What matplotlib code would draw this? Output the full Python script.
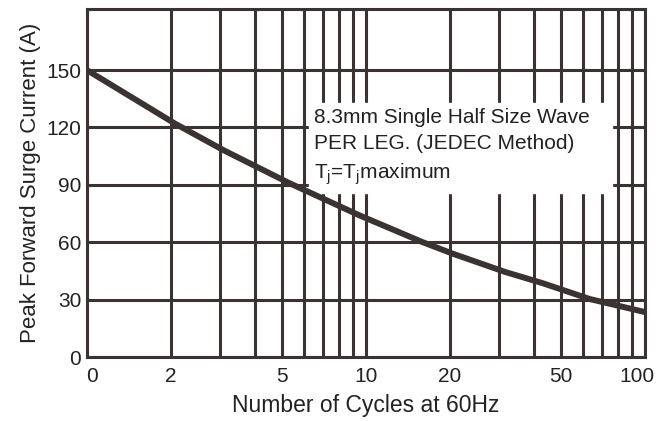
import numpy as np
import matplotlib.pyplot as plt
import matplotlib.transforms as mtransforms
from matplotlib.ticker import NullFormatter

# ==============================
# DATA
# ==============================
cycles = [1, 2.07, 3.1, 5.3, 9.5, 16, 20.5, 31.5, 43, 63.5, 100]
surge_current = [150, 122, 108, 91, 74, 60, 54, 44.5, 38.6, 30.3, 23.5]

x_ticks = [1, 2, 5, 10, 20, 50, 100]
x_tick_labels = ["0", "2", "5", "10", "20", "50", "100"]
x_minor = [3, 4, 6, 7, 8, 9, 30, 40, 60, 70, 80, 90]
y_ticks = [0, 30, 60, 90, 120, 150]

note_lines = "8.3mm Single Half Size Wave\nPER LEG. (JEDEC Method)\nT$_{\\mathregular{j}}$=T$_{\\mathregular{j}}$maximum"

INK = "#3b3331"
TXT = "#222222"

# ==============================
# PLOT
# ==============================
plt.rcParams['font.family'] = ['Liberation Sans', 'DejaVu Sans']

fig = plt.figure(figsize=(6.58, 4.21), dpi=100)
ax = fig.add_axes([0.132, 0.152, 0.848, 0.827])

ax.set_xscale('log')
ax.set_xlim(1, 100)
ax.set_ylim(0, 182)

ax.set_xticks(x_ticks)
ax.set_xticklabels(x_tick_labels)
ax.set_xticks(x_minor, minor=True)
ax.xaxis.set_minor_formatter(NullFormatter())
ax.set_yticks(y_ticks)

ax.tick_params(which='both', length=0, labelsize=15, colors=TXT)
ax.tick_params(axis='x', pad=7)
ax.tick_params(axis='y', pad=4)

# nudge first and last x labels inward like the original sheet
labels = ax.get_xticklabels()
labels[0].set_transform(labels[0].get_transform() +
                        mtransforms.ScaledTranslation(5 / 100, 0, fig.dpi_scale_trans))
labels[-1].set_transform(labels[-1].get_transform() +
                         mtransforms.ScaledTranslation(-8 / 100, 0, fig.dpi_scale_trans))

ax.set_axisbelow(True)
ax.grid(which='both', color=INK, linewidth=2.2)

# white box behind the note
ax.fill_between([6.25, 76], 85.6, 133, color='white', zorder=1)

ax.plot(cycles, surge_current, color=INK, linewidth=4.3, zorder=2,
        solid_capstyle='butt')

ax.text(6.5, 130, note_lines, fontsize=15, color=TXT,
        va='top', ha='left', linespacing=1.45, zorder=3)

for s in ax.spines.values():
    s.set_color(INK)
    s.set_linewidth(2.2)

ax.set_xlabel('Number of Cycles at 60Hz', fontsize=16.5, color=TXT, labelpad=6)
ax.set_ylabel('Peak Forward Surge Current (A)', fontsize=16, color=TXT, labelpad=4)

fig.savefig('out.png', dpi=100, facecolor='white')
